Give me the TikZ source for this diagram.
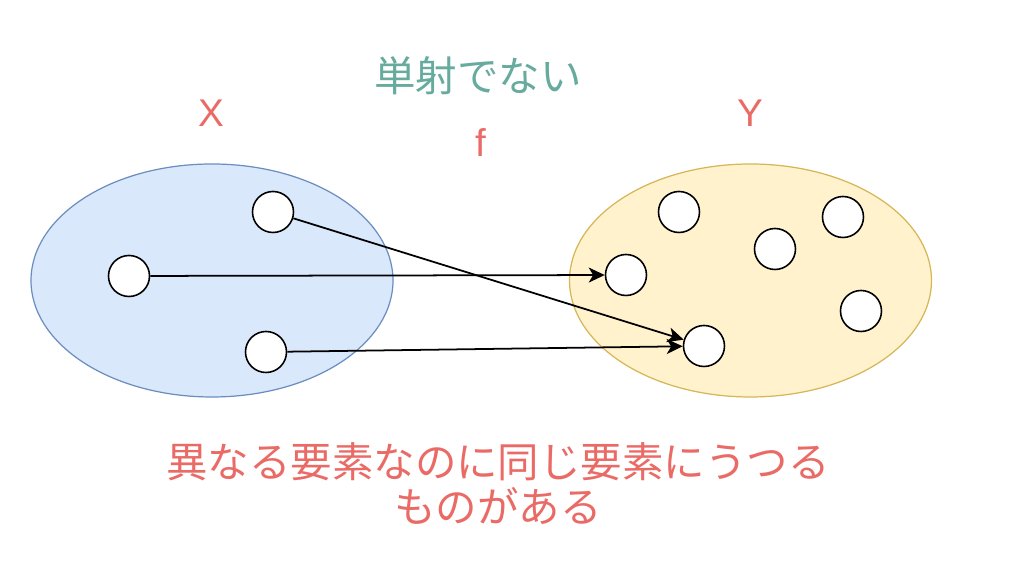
\documentclass[tikz,border=0pt]{standalone}
\usepackage{fontspec}
\setmainfont{Liberation Sans}
\newfontfamily\cjk{Noto Sans CJK JP}
\usepackage{tikz}
\usetikzlibrary{shapes.geometric,arrows.meta}
\definecolor{setblue}{HTML}{DAE8FC}
\definecolor{setblueline}{HTML}{6C8EBF}
\definecolor{setyellow}{HTML}{FFF2CC}
\definecolor{setyellowline}{HTML}{D6B656}
\definecolor{labgreen}{HTML}{67AB9F}
\definecolor{labred}{HTML}{EA6B66}
\begin{document}
\begin{tikzpicture}[
  setX/.style={ellipse,draw=setblueline,fill=setblue,line width=0.7pt,minimum width=7.24cm,minimum height=4.66cm},
  setY/.style={ellipse,draw=setyellowline,fill=setyellow,line width=0.7pt,minimum width=7.24cm,minimum height=4.66cm},
  elem/.style={circle,draw=black,fill=white,line width=0.9pt,minimum size=0.82cm,inner sep=0pt},
  mapsto/.style={-{Stealth[length=3.2mm,width=3mm,inset=0.9mm]},line width=1pt},
  biglab/.style={font=\fontsize{22}{26}\selectfont}
]
\useasboundingbox (0,0) rectangle (20.48,11.32);

% the two sets
\node[setX] (X) at (4.24,5.71) {};
\node[setY] (Y) at (15.01,5.71) {};

% elements of X
\node[elem] (a1) at (5.46,7.08) {};
\node[elem] (a2) at (2.58,5.80) {};
\node[elem] (a3) at (5.32,4.28) {};

% elements of Y
\node[elem] (b1) at (12.52,5.82) {};
\node[elem] (b2) at (14.08,4.40) {};
\node[elem] (b3) at (13.58,7.08) {};
\node[elem] (b4) at (15.50,6.34) {};
\node[elem] (b5) at (16.86,6.98) {};
\node[elem] (b6) at (17.22,5.10) {};

% the map f
\draw[mapsto] (a2) -- (b1);
\draw[mapsto] (a1) -- (b2);
\draw[mapsto] (a3) -- (b2);

% labels
\node[biglab,text=labgreen,font=\fontsize{23.6}{26}\selectfont\cjk] (title) at (9.56,9.80) {単射でない};
\node[biglab,text=labred] (labX) at (4.22,9.06) {X};
\node[biglab,text=labred] (labY) at (15.00,9.06) {Y};
\node[biglab,text=labred] (labf) at (9.62,8.46) {f};
\node[text=labred,align=center,font=\fontsize{23.6}{25.6}\selectfont\cjk] (note) at (9.96,1.64)
  {異なる要素なのに同じ要素にうつる\\ものがある};

\end{tikzpicture}
\end{document}
